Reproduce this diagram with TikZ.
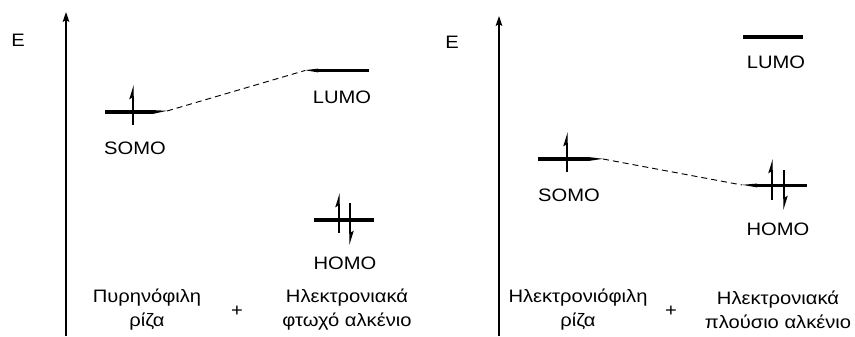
\documentclass[tikz,border=0pt]{standalone}
\usepackage{fontspec}
\setmainfont{Liberation Sans}[FakeStretch=1.12]
\usetikzlibrary{arrows.meta}
\tikzset{
  axis/.style={-{Stealth[length=7.5pt,width=5pt,inset=1.5pt]}, line width=1.1pt},
  level/.style={line width=2.8pt},
  elec/.style={-{Stealth[left,length=9pt,width=5.5pt,inset=1.5pt]}, line width=1pt},
  link/.style={dash pattern=on 4.5pt off 3pt, line width=0.7pt},
  lbl/.style={font=\fontsize{13.5}{18}\selectfont, align=center, inner sep=0pt}
}
\begin{document}
\begin{tikzpicture}[x=0.75pt,y=-0.75pt]
  \useasboundingbox (0,0) rectangle (855,336);
  % left panel: nucleophilic radical
  \coordinate (axA0) at (66,336);
  \coordinate (axA1) at (66,12);
  \draw[axis] (axA0) -- (axA1);
  \node[lbl] (eA) at (18,40) {E};
  \draw[level] (105,112) -- (153,112);
  \fill (153,110.1) -- (167,110.8) -- (153,113.9) -- cycle;
  \coordinate (somoA) at (167,111);
  \draw[elec] (133,125) -- (133,85);
  \node[lbl] (somoAlbl) at (135,148) {SOMO};
  \coordinate (lumoA) at (305,70.5);
  \fill (305,70.2) -- (318,68.6) -- (318,72.4) -- cycle;
  \draw[level] (318,70.5) -- (369,70.5);
  \node[lbl] (lumoAlbl) at (342,97) {LUMO};
  \draw[link] (somoA) -- (lumoA);
  \draw[level] (314,220) -- (374,220);
  \draw[elec] (339,233) -- (339,193);
  \draw[elec] (350,203) -- (350,245);
  \node[lbl] (homoAlbl) at (345,263) {HOMO};
  \node[lbl] (radA) at (147,310) {Πυρηνόφιλη\\ρίζα};
  \node[lbl] (plusA) at (237,311) {+};
  \node[lbl] (alkA) at (347,310) {Ηλεκτρονιακά\\φτωχό αλκένιο};
  % right panel: electrophilic radical
  \coordinate (axB0) at (499,336);
  \coordinate (axB1) at (499,16);
  \draw[axis] (axB0) -- (axB1);
  \node[lbl] (eB) at (452,42) {E};
  \draw[level] (743,37) -- (803,37);
  \node[lbl] (lumoBlbl) at (776,62) {LUMO};
  \draw[level] (538,159) -- (589,159);
  \fill (589,157.1) -- (603,158.8) -- (589,160.9) -- cycle;
  \coordinate (somoB) at (603,159);
  \draw[elec] (567,172) -- (567,132);
  \node[lbl] (somoBlbl) at (569,195) {SOMO};
  \coordinate (homoB) at (742,185);
  \fill (742,184.8) -- (757,183.6) -- (757,187.4) -- cycle;
  \draw[level] (757,185.5) -- (807,185.5);
  \draw[link] (somoB) -- (homoB);
  \draw[elec] (772,200) -- (772,159);
  \draw[elec] (784,170) -- (784,210);
  \node[lbl] (homoBlbl) at (778,229) {HOMO};
  \node[lbl] (radB) at (578,310) {Ηλεκτρονιόφιλη\\ρίζα};
  \node[lbl] (plusB) at (671,311) {+};
  \node[lbl] (alkB) at (778,310) {Ηλεκτρονιακά\\πλούσιο αλκένιο};
\end{tikzpicture}
\end{document}
